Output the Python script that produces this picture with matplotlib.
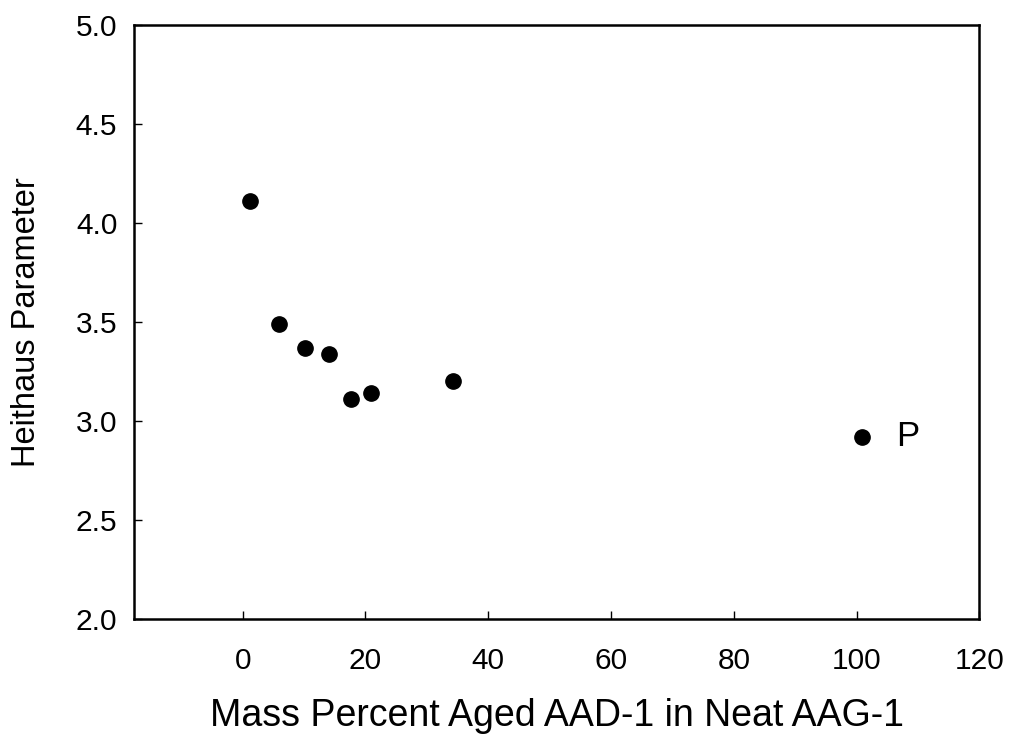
import matplotlib
matplotlib.use('Agg')
import matplotlib.pyplot as plt

mass_pct = [1.2, 5.9, 10.1, 14.0, 17.6, 20.9, 34.2, 100.8]
heithaus = [4.11, 3.49, 3.37, 3.34, 3.11, 3.14, 3.20, 2.92]
xticks = [0, 20, 40, 60, 80, 100, 120]
yticks = [2.0, 2.5, 3.0, 3.5, 4.0, 4.5, 5.0]

plt.rcParams['font.family'] = ['Liberation Sans', 'DejaVu Sans']

fig = plt.figure(figsize=(10.15, 7.41), dpi=100)
ax = fig.add_axes([0.132, 0.165, 0.833, 0.801])

ax.plot(mass_pct, heithaus, 'o', color='black', ms=11, ls='none')
ax.text(108.3, heithaus[-1], 'P', fontsize=25, ha='center', va='center')

ax.set_xlim(-17.7, 120)
ax.set_ylim(2.0, 5.0)
ax.set_xticks(xticks)
ax.set_yticks(yticks)
ax.set_yticklabels(['%.1f' % v for v in yticks])
ax.tick_params(direction='in', length=6, width=1, labelsize=21.5)
ax.tick_params(axis='x', pad=20)
ax.tick_params(axis='y', pad=12)
for s in ax.spines.values():
    s.set_linewidth(1.8)

ax.set_xlabel('Mass Percent Aged AAD-1 in Neat AAG-1', fontsize=27, labelpad=17)
ax.set_ylabel('Heithaus Parameter', fontsize=23.5, labelpad=24)

fig.savefig('out.png', dpi=100)
